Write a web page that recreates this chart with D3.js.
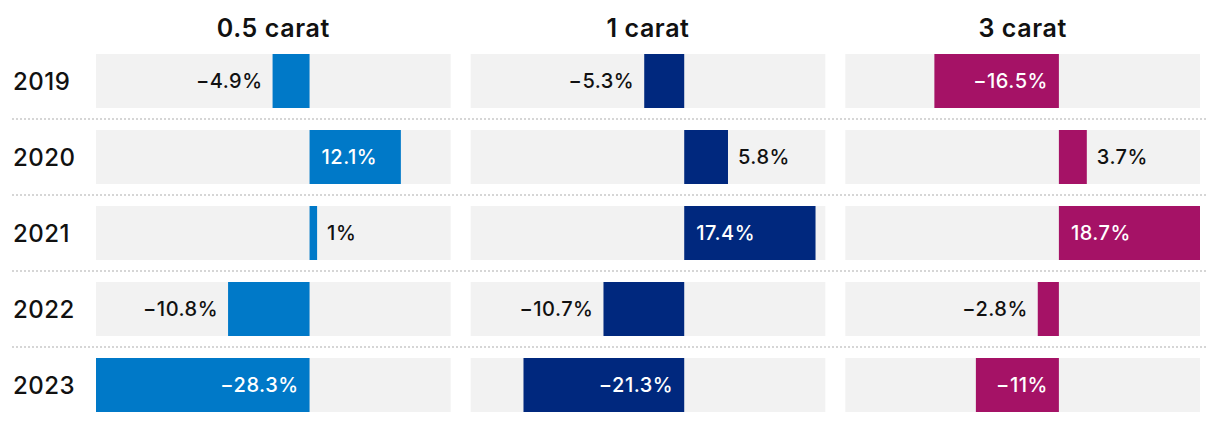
<!DOCTYPE html>
<html>
<head>
<meta charset="utf-8">
<script src="https://cdn.jsdelivr.net/npm/d3@7"></script>
<style>
  html, body { margin: 0; padding: 0; background: #fff; }
  svg { display: block; font-family: Inter, "Noto Sans", sans-serif; }
</style>
</head>
<body>
<svg id="chart" width="1220" height="422"></svg>
<script>
const years = ["2019", "2020", "2021", "2022", "2023"];
const carats = ["0.5 carat", "1 carat", "3 carat"];
const halfCarat = [-4.9, 12.1, 1, -10.8, -28.3];
const oneCarat = [-5.3, 5.8, 17.4, -10.7, -21.3];
const threeCarat = [-16.5, 3.7, 18.7, -2.8, -11];
const seriesColors = ["#0079C8", "#00287E", "#A51266"];

const series = [halfCarat, oneCarat, threeCarat];

const svg = d3.select("#chart");

const panel = d3.scaleBand().domain(carats).range([96, 1200]).paddingInner(20 / 374.67);
const row = d3.scaleBand().domain(years).range([54, 412]).paddingInner(22 / 76);

const allVals = series.flat();
const x = d3.scaleLinear()
  .domain([d3.min(allVals), d3.max(allVals)])
  .range([0, panel.bandwidth()]);

const fmt = v => (v < 0 ? "\u2212" : "") + Math.abs(v) + "%";

// dotted separators
years.slice(1).forEach(yr => {
  const yy = row(yr) - (row.step() - row.bandwidth()) / 2;
  svg.append("line")
    .attr("x1", 12).attr("x2", 1208)
    .attr("y1", yy).attr("y2", yy)
    .attr("stroke", "#d6d6d6").attr("stroke-width", 2)
    .attr("stroke-dasharray", "2,2");
});

// year labels
svg.selectAll("text.year").data(years).join("text")
  .attr("class", "year")
  .attr("x", 13)
  .attr("y", d => row(d) + row.bandwidth() / 2)
  .attr("dy", "0.36em")
  .attr("font-size", 24)
  .attr("font-weight", 500)
  .attr("letter-spacing", 0.5)
  .attr("fill", "#111")
  .text(d => d);

carats.forEach((c, ci) => {
  const g = svg.append("g").attr("transform", `translate(${panel(c)},0)`);
  const x0 = x(0);

  g.append("text")
    .attr("x", panel.bandwidth() / 2)
    .attr("y", 37)
    .attr("text-anchor", "middle")
    .attr("font-size", 25)
    .attr("font-weight", 600)
    .attr("letter-spacing", 0.6)
    .attr("fill", "#111")
    .text(c);

  years.forEach((yr, i) => {
    const v = series[ci][i];
    const y0 = row(yr);
    g.append("rect")
      .attr("x", 0).attr("y", y0)
      .attr("width", panel.bandwidth()).attr("height", row.bandwidth())
      .attr("fill", "#f2f2f2");
    const bx = Math.min(x(v), x0);
    const bw = Math.abs(x(v) - x0);
    g.append("rect")
      .attr("x", bx).attr("y", y0)
      .attr("width", bw).attr("height", row.bandwidth())
      .attr("fill", seriesColors[ci]);

    const t = g.append("text")
      .attr("y", y0 + row.bandwidth() / 2)
      .attr("dy", "0.36em")
      .attr("font-size", 20)
      .attr("font-weight", 500)
      .attr("letter-spacing", 0.5)
      .text(fmt(v));
    const tw = t.node().getComputedTextLength();
    const inside = tw + 22 <= bw;
    if (inside) {
      t.attr("fill", "#fff")
        .attr("x", v < 0 ? x0 - 11 : x0 + 12)
        .attr("text-anchor", v < 0 ? "end" : "start");
    } else {
      t.attr("fill", "#111")
        .attr("x", v < 0 ? x(v) - 10 : x(v) + 10)
        .attr("text-anchor", v < 0 ? "end" : "start");
    }
  });
});
</script>
</body>
</html>
